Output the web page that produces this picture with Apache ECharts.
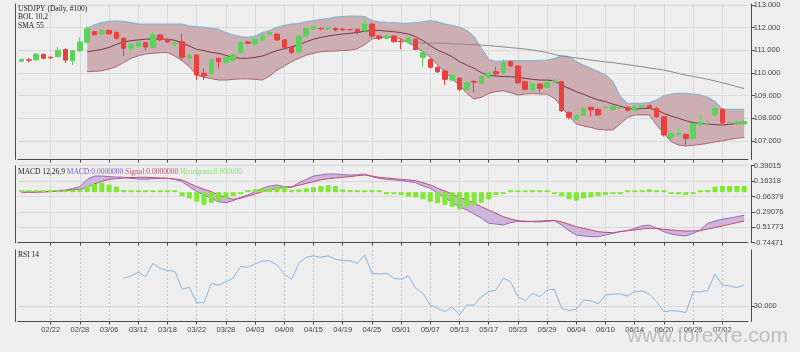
<!DOCTYPE html>
<html>
<head>
<meta charset="utf-8">
<script src="https://cdn.jsdelivr.net/npm/echarts@6/dist/echarts.min.js"></script>
<style>
  html, body { margin: 0; padding: 0; background: #eeeeee; }
  #chart { width: 800px; height: 352px; }
</style>
</head>
<body>
<div id="chart"></div>
<script>
// trading days, USDJPY daily
const dates = [
  '02/18','02/19','02/20','02/21','02/22','02/25','02/26','02/27','02/28',
  '03/01','03/04','03/05','03/06','03/07','03/08','03/11','03/12','03/13','03/14','03/15',
  '03/18','03/19','03/20','03/21','03/22','03/25','03/26','03/27','03/28','03/29',
  '04/01','04/02','04/03','04/04','04/05','04/08','04/09','04/10','04/11','04/12',
  '04/15','04/16','04/17','04/18','04/19','04/22','04/23','04/24','04/25','04/26','04/29','04/30',
  '05/01','05/02','05/03','05/06','05/07','05/08','05/09','05/10','05/13','05/14','05/15','05/16','05/17',
  '05/20','05/21','05/22','05/23','05/24','05/27','05/28','05/29','05/30','05/31',
  '06/03','06/04','06/05','06/06','06/07','06/10','06/11','06/12','06/13','06/14',
  '06/17','06/18','06/19','06/20','06/21','06/24','06/25','06/26','06/27','06/28',
  '07/01','07/02','07/03','07/04','07/05'
];

// [open, close, low, high]
const ohlc = [
  [110.52,110.60,110.48,110.64],[110.58,110.56,110.46,110.66],[110.58,110.83,110.54,110.88],
  [110.82,110.65,110.60,110.86],[110.70,110.67,110.62,110.72],[110.72,111.00,110.68,111.16],
  [111.04,110.57,110.44,111.08],[110.54,110.98,110.35,111.02],[110.98,111.37,110.94,111.57],
  [111.36,111.95,111.30,112.07],[111.82,111.69,111.65,111.86],[111.72,111.87,111.68,111.95],
  [111.88,111.73,111.70,111.92],[111.78,111.53,111.48,111.82],[111.53,111.09,110.75,111.56],
  [111.09,111.24,110.95,111.30],[111.19,111.34,111.12,111.40],[111.34,111.15,111.00,111.38],
  [111.13,111.68,111.10,111.80],[111.68,111.46,111.40,111.72],[111.48,111.37,111.33,111.50],
  [111.28,111.32,111.15,111.36],[111.38,110.69,110.55,111.75],[110.65,110.79,110.35,110.85],
  [110.79,109.91,109.69,110.82],[109.99,109.87,109.69,110.20],[109.96,110.60,109.90,110.65],
  [110.65,110.50,110.20,110.70],[110.47,110.69,110.42,110.74],[110.57,110.79,110.50,110.85],
  [110.90,111.34,110.85,111.40],[111.37,111.31,111.26,111.42],[111.28,111.49,111.22,111.55],
  [111.46,111.63,111.42,111.70],[111.71,111.78,111.66,111.84],[111.71,111.46,111.42,111.76],
  [111.46,111.13,111.08,111.50],[111.13,110.90,110.84,111.18],[110.94,111.63,110.88,111.68],
  [111.63,111.97,111.58,112.04],[111.93,112.04,111.88,112.10],[111.97,111.95,111.88,112.02],
  [111.95,112.00,111.90,112.06],[111.97,111.90,111.84,112.02],[111.94,111.90,111.86,111.98],
  [111.92,111.91,111.87,111.95],[111.93,111.82,111.68,111.96],[111.87,112.16,111.80,112.34],
  [112.16,111.63,111.55,112.20],[111.63,111.53,111.45,111.67],[111.53,111.63,111.48,111.68],
  [111.63,111.38,111.34,111.66],[111.40,111.38,111.04,111.53],[111.34,111.53,111.30,111.58],
  [111.49,111.04,111.00,111.52],[110.69,110.90,110.28,111.00],[110.60,110.25,110.20,110.64],
  [110.25,110.06,110.00,110.30],[110.09,109.72,109.47,110.12],[109.69,109.91,109.64,109.96],
  [109.77,109.28,109.20,109.82],[109.28,109.57,109.22,109.62],[109.62,109.60,109.13,109.70],
  [109.55,109.84,109.50,109.90],[109.81,109.99,109.76,110.04],[110.06,109.97,109.91,110.28],
  [110.01,110.46,109.96,110.60],[110.50,110.31,110.26,110.55],[110.31,109.57,109.52,110.35],
  [109.62,109.28,109.24,109.66],[109.25,109.51,109.20,109.55],[109.51,109.32,109.13,109.55],
  [109.37,109.57,109.33,109.62],[109.62,109.66,109.56,109.74],[109.62,108.34,108.28,109.66],
  [108.25,108.05,107.95,108.30],[107.97,108.13,107.93,108.18],[108.15,108.44,108.10,108.50],
  [108.49,108.37,108.07,108.53],[108.40,108.15,108.10,108.45],[108.47,108.49,108.40,108.55],
  [108.40,108.53,108.35,108.58],[108.46,108.48,108.40,108.62],[108.49,108.35,108.30,108.53],
  [108.35,108.51,108.30,108.56],[108.51,108.56,108.47,108.60],[108.56,108.46,108.42,108.60],
  [108.44,108.07,108.02,108.48],[108.07,107.27,107.20,108.10],[107.16,107.33,107.04,107.38],
  [107.30,107.34,107.19,107.56],[107.29,107.11,106.82,107.33],[107.12,107.75,107.08,107.80],
  [107.71,107.80,107.66,108.15],[107.76,107.78,107.63,107.93],[108.15,108.44,108.10,108.52],
  [108.40,107.81,107.76,108.45],[107.80,107.82,107.72,107.90],[107.76,107.83,107.70,107.90],
  [107.75,107.857,107.70,107.92]
];
const lastPrice = 107.857;

// Bollinger (10,2)
const bolUpper = [null,null,null,null,null,null,null,null,null,
  111.97,112.12,112.22,112.28,112.29,112.28,112.22,112.16,112.16,112.16,112.16,112.16,112.16,112.16,
  112.07,112.04,112.01,111.97,111.93,111.78,111.68,111.60,111.57,111.63,111.78,111.87,112.01,112.10,
  112.16,112.19,112.25,112.31,112.37,112.40,112.46,112.49,112.51,112.51,112.49,112.31,
  112.26,112.23,112.22,112.19,112.19,112.22,112.26,112.31,112.25,112.16,112.10,112.01,111.87,111.60,
  111.09,110.60,110.50,110.53,110.54,110.54,110.54,110.54,110.56,110.57,110.65,110.75,110.72,110.50,
  110.34,110.21,110.06,109.91,109.62,108.96,108.66,108.66,108.66,108.69,108.81,108.99,109.07,109.10,
  109.10,109.07,109.03,108.93,108.74,108.40,108.40,108.40,108.40];
const bolMid = [null,null,null,null,null,null,null,null,null,
  110.94,110.99,111.04,111.13,111.26,111.37,111.43,111.46,111.49,111.50,111.50,111.49,111.44,111.34,
  111.19,111.04,110.99,110.91,110.87,110.78,110.69,110.65,110.65,110.69,110.75,110.87,110.99,111.07,
  111.16,111.24,111.38,111.49,111.57,111.63,111.68,111.72,111.75,111.79,111.84,111.88,
  111.88,111.85,111.82,111.78,111.72,111.60,111.43,111.21,111.01,110.87,110.72,110.50,110.35,110.21,
  110.01,109.90,109.87,109.84,109.84,109.81,109.76,109.72,109.69,109.69,109.65,109.47,109.32,109.18,
  109.06,108.93,108.81,108.74,108.63,108.54,108.44,108.40,108.44,108.44,108.37,108.22,108.10,108.00,
  107.90,107.81,107.78,107.75,107.72,107.71,107.73,107.78,107.82];
const bolLower = [null,null,null,null,null,null,null,null,null,
  110.06,110.07,110.10,110.18,110.28,110.46,110.65,110.76,110.84,110.87,110.90,110.90,110.75,110.54,
  110.28,109.91,109.81,109.75,109.69,109.69,109.72,109.74,109.74,109.72,109.69,109.87,110.13,110.31,
  110.50,110.65,110.79,110.87,110.94,110.96,110.97,110.99,111.01,111.07,111.25,111.50,
  111.55,111.59,111.57,111.49,111.34,111.16,110.94,110.69,110.35,110.06,109.72,109.47,109.10,108.85,
  108.93,109.10,109.18,109.22,109.13,109.03,109.07,109.10,109.07,109.07,108.88,108.51,108.10,107.75,
  107.66,107.60,107.51,107.49,107.49,107.75,108.04,108.15,108.15,108.15,107.71,107.34,106.97,106.82,
  106.78,106.81,106.85,106.90,106.96,107.01,107.07,107.12,107.16];

// SMA 55
const sma55 = [
  null,null,null,null,null,null,null,null,null,null,null,null,null,null,null,null,null,null,
  null,null,null,null,null,null,null,null,null,null,null,null,null,null,null,null,null,null,
  null,null,null,null,null,null,null,null,null,null,null,null,null,null,null,null,null,null,
  111.34,111.32,111.32,111.31,111.31,111.29,111.28,111.26,111.25,111.23,111.21,111.18,111.15,111.12,
  111.09,111.06,111.01,110.96,110.90,110.82,110.75,110.71,110.66,110.62,110.57,110.53,110.49,110.46,
  110.41,110.37,110.32,110.28,110.22,110.18,110.13,110.06,109.98,109.91,109.85,109.79,109.72,109.65,
  109.57,109.49,109.40,109.31];

// MACD 12,26,9
const macdLine = [
  0.000,0.000,0.003,0.008,0.012,0.022,0.032,0.052,0.081,0.189,0.238,0.238,0.229,0.224,0.219,0.204,
  0.194,0.189,0.199,0.204,0.204,0.189,0.155,0.081,0.008,-0.041,-0.091,-0.140,-0.155,-0.125,-0.076,
  -0.041,0.008,0.057,0.091,0.106,0.081,0.071,0.140,0.189,0.238,0.253,0.268,0.268,0.258,0.253,0.258,
  0.268,0.229,0.204,0.189,0.180,0.170,0.155,0.140,0.091,0.057,-0.017,-0.076,-0.155,-0.214,-0.263,
  -0.322,-0.385,-0.459,-0.469,-0.484,-0.449,-0.430,-0.425,-0.435,-0.439,-0.430,-0.420,-0.484,-0.567,
  -0.631,-0.646,-0.656,-0.656,-0.631,-0.606,-0.582,-0.567,-0.533,-0.498,-0.484,-0.533,-0.582,-0.616,
  -0.636,-0.646,-0.606,-0.557,-0.459,-0.425,-0.400,-0.380,-0.361,-0.341];
const signalLine = [
  0.000,0.000,0.000,0.003,0.008,0.012,0.022,0.032,0.042,0.071,0.121,0.160,0.189,0.199,0.209,0.214,
  0.219,0.219,0.214,0.209,0.204,0.194,0.180,0.130,0.081,0.042,0.008,-0.041,-0.076,-0.105,-0.091,
  -0.056,-0.027,0.008,0.032,0.057,0.071,0.081,0.101,0.130,0.155,0.180,0.199,0.209,0.219,0.229,0.243,
  0.253,0.238,0.219,0.209,0.199,0.189,0.180,0.170,0.140,0.106,0.057,0.017,-0.032,-0.076,-0.115,
  -0.164,-0.214,-0.263,-0.312,-0.361,-0.395,-0.420,-0.435,-0.430,-0.425,-0.420,-0.415,-0.439,-0.474,
  -0.508,-0.533,-0.557,-0.582,-0.592,-0.597,-0.582,-0.567,-0.557,-0.543,-0.533,-0.533,-0.547,-0.557,
  -0.567,-0.572,-0.572,-0.567,-0.543,-0.523,-0.498,-0.474,-0.449,-0.425];
const histogram = [
  0.000,0.000,0.003,0.005,0.005,0.022,0.022,0.032,0.042,0.091,0.121,0.140,0.111,0.081,0.032,0.004,
  0.004,0.004,0.004,0.004,0.004,0.004,-0.056,-0.091,-0.140,-0.189,-0.155,-0.125,-0.091,-0.056,-0.004,
  0.022,0.042,0.052,0.057,0.081,0.081,0.032,0.042,0.057,0.071,0.091,0.101,0.091,0.042,0.032,0.022,
  0.022,0.004,0.004,-0.017,-0.027,-0.041,-0.066,-0.076,-0.105,-0.140,-0.164,-0.189,-0.214,-0.253,-0.214,
  -0.189,-0.155,-0.105,-0.041,-0.004,0.008,0.004,0.004,0.004,0.004,0.004,-0.004,-0.056,-0.105,
  -0.125,-0.091,-0.076,-0.056,-0.041,-0.004,-0.004,0.004,0.004,0.022,0.042,0.008,0.004,-0.027,
  -0.032,-0.041,-0.004,0.008,0.032,0.081,0.091,0.091,0.091,0.091];

// RSI 14
const rsi = [
  null,null,null,null,null,null,null,null,null,null,null,null,null,null,
  47.9,49.4,51.7,48.9,57.5,54.3,52.8,52.4,40.8,42.1,32.1,32.1,44.6,43.4,45.7,47.9,55.4,55.0,57.1,59.0,
  59.2,56.5,50.6,47.2,57.5,61.4,62.3,61.4,62.3,60.1,59.2,59.2,57.5,62.9,51.1,50.6,51.1,47.9,47.2,49.4,
  41.4,38.2,30.6,28.5,26.3,29.5,24.2,30.6,30.6,36.0,39.2,40.3,47.9,45.7,36.0,33.4,38.2,36.0,40.3,40.8,
  28.5,27.0,27.9,33.9,33.4,31.3,37.1,37.7,37.7,36.5,39.2,39.7,37.7,32.8,26.3,27.0,26.8,25.7,39.2,39.2,
  39.9,50.6,43.5,42.9,41.8,43.5];

const priceTicks = [107, 108, 109, 110, 111, 112, 113];
const macdTicks = [-0.74471, -0.51773, -0.29076, -0.06379, 0.16318, 0.39015];
const rsiTicks = [30];

// fill helpers built from the read values
const bolBand = bolUpper.map((u, i) => u == null ? null : +(u - bolLower[i]).toFixed(3));
const macdBase = macdLine.map((m, i) => Math.min(m, signalLine[i]));
const macdBand = macdLine.map((m, i) => +Math.abs(m - signalLine[i]).toFixed(4));

const chart = echarts.init(document.getElementById('chart'));
const axisColor = '#4a4a4a';
const gridColor = '#d9d9d9';
const labelFont = 'Liberation Sans';
const tickAt = (i) => i > 0 && i % 4 === 0;

function xAxisFor(g, showLabel) {
  return {
    type: 'category', gridIndex: g, data: dates, boundaryGap: true,
    axisLine: { show: true, onZero: false, lineStyle: { color: axisColor } },
    axisTick: { show: true, interval: tickAt, alignWithLabel: true, length: 3, lineStyle: { color: axisColor } },
    axisLabel: { show: showLabel, interval: tickAt, fontSize: 7.5, color: '#444', margin: 4, fontFamily: labelFont },
    splitLine: {
      show: true, interval: tickAt, alignWithLabel: true,
      lineStyle: g === 2 ? { color: '#c4c4c4', type: [2, 2] } : { color: gridColor }
    }
  };
}
function yRight(g, min, max, ticks, fmt) {
  return {
    type: 'value', gridIndex: g, position: 'right', offset: 3, min: min, max: max,
    axisLine: { show: true, lineStyle: { color: axisColor } },
    axisTick: { show: true, customValues: ticks, length: 4, lineStyle: { color: axisColor } },
    axisLabel: { customValues: ticks, formatter: fmt, fontSize: 7.5, color: '#444', margin: 3, fontFamily: labelFont },
    splitLine: { show: true, lineStyle: { color: gridColor } }
  };
}
function yLeft(g, min, max) {
  return {
    type: 'value', gridIndex: g, position: 'left', offset: 3, min: min, max: max,
    axisLine: { show: true, lineStyle: { color: axisColor } },
    axisTick: { show: false }, axisLabel: { show: false }, splitLine: { show: false }
  };
}
const noSym = { symbol: 'none', showSymbol: false, silent: true };

const option = {
  backgroundColor: '#eeeeee',
  animation: false,
  grid: [
    { left: 17.85, right: 52.15, top: 4, height: 155.5 },
    { left: 17.85, right: 52.15, top: 165.7, height: 77 },
    { left: 17.85, right: 52.15, top: 250, height: 71.5 }
  ],
  xAxis: [xAxisFor(0, false), xAxisFor(1, false), xAxisFor(2, true)],
  yAxis: [
    yRight(0, 106.185, 113.044, priceTicks, v => v.toFixed(3)),
    yLeft(0, 106.185, 113.044),
    yRight(1, -0.74471, 0.39015, macdTicks, v => v.toFixed(5)),
    yLeft(1, -0.74471, 0.39015),
    yRight(2, 20, 66.1, rsiTicks, v => v.toFixed(3)),
    yLeft(2, 20, 66.1)
  ],
  graphic: [
    { type: 'text', left: 18, top: 5, z: 10, style: { text: 'USDJPY (Daily, #100)', fontSize: 7.5, fontFamily: 'Liberation Serif', fill: '#222' } },
    { type: 'text', left: 18, top: 13.5, z: 10, style: { text: 'BOL 10,2', fontSize: 7.5, fontFamily: 'Liberation Serif', fill: '#222' } },
    { type: 'text', left: 18, top: 22, z: 10, style: { text: 'SMA 55', fontSize: 7.5, fontFamily: 'Liberation Serif', fill: '#222' } },
    { type: 'text', left: 18, top: 168, z: 10, style: {
        text: '{a|MACD 12,26,9} {b|MACD:0.0000000} {c|Signal:0.0000000} {d|Histogram:0.000000}',
        fontSize: 7.5, fontFamily: 'Liberation Serif',
        rich: {
          a: { fill: '#222', fontSize: 7.5, fontFamily: 'Liberation Serif' },
          b: { fill: '#7a5cc0', fontSize: 7.5, fontFamily: 'Liberation Serif' },
          c: { fill: '#c0506e', fontSize: 7.5, fontFamily: 'Liberation Serif' },
          d: { fill: '#8fe070', fontSize: 7.5, fontFamily: 'Liberation Serif' }
        } } },
    { type: 'text', left: 18, top: 251.5, z: 10, style: { text: 'RSI 14', fontSize: 7.5, fontFamily: 'Liberation Serif', fill: '#222' } },
    { type: 'text', left: 627, top: 326, z: 10, style: { text: 'www.forexre.com', fontSize: 21, fontFamily: 'Liberation Sans', fill: '#bdbdbd' } }
  ],
  series: [
    Object.assign({ type: 'line', xAxisIndex: 0, yAxisIndex: 0, data: bolLower, stack: 'bol', stackStrategy: 'all', z: 1,
      lineStyle: { opacity: 0 } }, noSym),
    Object.assign({ type: 'line', xAxisIndex: 0, yAxisIndex: 0, data: bolBand, stack: 'bol', stackStrategy: 'all', z: 1,
      lineStyle: { opacity: 0 }, areaStyle: { color: '#ccaeb3', opacity: 1 } }, noSym),
    Object.assign({ type: 'line', xAxisIndex: 0, yAxisIndex: 0, data: bolUpper, z: 2, lineStyle: { color: '#8cb6c9', width: 1.3 } }, noSym),
    Object.assign({ type: 'line', xAxisIndex: 0, yAxisIndex: 0, data: bolLower, z: 2, lineStyle: { color: '#ad6674', width: 1 } }, noSym),
    Object.assign({ type: 'line', xAxisIndex: 0, yAxisIndex: 0, data: bolMid, z: 2, lineStyle: { color: '#7a3446', width: 1 } }, noSym),
    Object.assign({ type: 'line', xAxisIndex: 0, yAxisIndex: 0, data: sma55, z: 2, lineStyle: { color: '#8a8a8a', width: 1 } }, noSym),
    {
      type: 'candlestick', xAxisIndex: 0, yAxisIndex: 0, data: ohlc, barWidth: 5, silent: true, z: 5,
      itemStyle: { color: '#5ad35a', color0: '#e8413f', borderColor: '#5ad35a', borderColor0: '#e8413f', borderWidth: 1 },
      markLine: {
        silent: true, symbol: 'none', animation: false,
        lineStyle: { opacity: 0 },
        label: { show: true, position: 'end', distance: -1, formatter: lastPrice.toFixed(3), color: '#fff',
          backgroundColor: '#e4473f', padding: [1, 5, 1, 5], fontSize: 7.5, fontFamily: labelFont },
        data: [{ yAxis: lastPrice }]
      }
    },
    Object.assign({ type: 'line', xAxisIndex: 1, yAxisIndex: 2, data: macdBase, stack: 'macd', stackStrategy: 'all', z: 1,
      lineStyle: { opacity: 0 } }, noSym),
    Object.assign({ type: 'line', xAxisIndex: 1, yAxisIndex: 2, data: macdBand, stack: 'macd', stackStrategy: 'all', z: 1,
      lineStyle: { opacity: 0 }, areaStyle: { color: '#ccb6d9', opacity: 1 } }, noSym),
    { type: 'bar', xAxisIndex: 1, yAxisIndex: 2, data: histogram, barWidth: 5, barMinHeight: 2, silent: true, z: 3,
      itemStyle: { color: '#7fe832' } },
    Object.assign({ type: 'line', xAxisIndex: 1, yAxisIndex: 2, data: macdLine, z: 2, lineStyle: { color: '#9a6cb8', width: 1 } }, noSym),
    Object.assign({ type: 'line', xAxisIndex: 1, yAxisIndex: 2, data: signalLine, z: 2, lineStyle: { color: '#c24a78', width: 1 } }, noSym),
    Object.assign({ type: 'line', xAxisIndex: 2, yAxisIndex: 4, data: rsi, z: 2, lineStyle: { color: '#86b6e4', width: 1 } }, noSym)
  ]
};
chart.setOption(option);
window.addEventListener('resize', () => { chart && chart.resize(); });
</script>
</body>
</html>
